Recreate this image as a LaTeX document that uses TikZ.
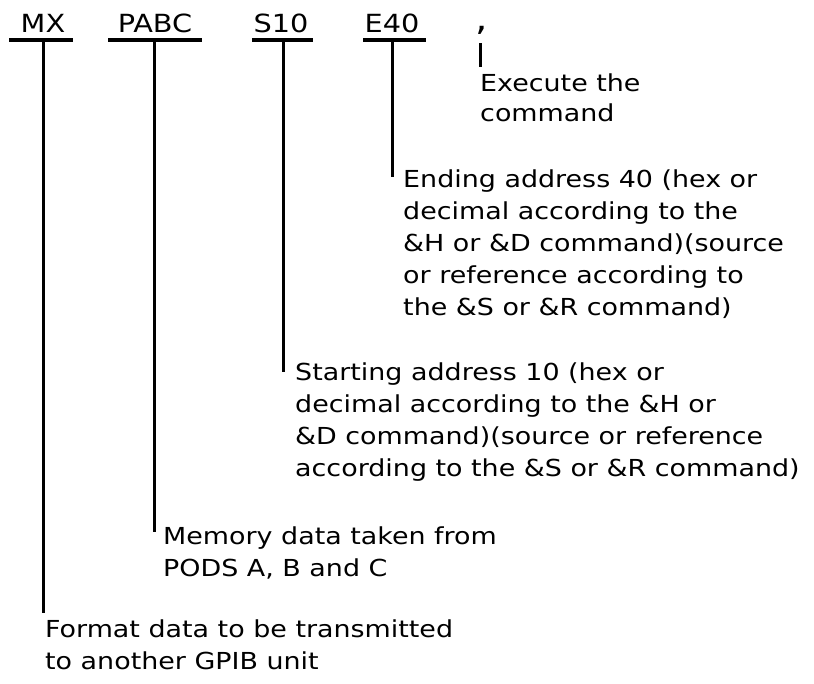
\documentclass[tikz,border=0pt]{standalone}
\usepackage{fontspec}
\setmainfont[FakeStretch=1.15]{DejaVu Sans}
\begin{document}
\begin{tikzpicture}[x=1pt,y=-1pt,
  hdr/.style={font=\fontsize{25}{30}\selectfont, inner sep=0pt, anchor=base},
  note/.style={font=\fontsize{23.4}{32}\selectfont, inner sep=0pt, anchor=north west, align=left},
  bar/.style={line width=3.4pt},
  lead/.style={line width=3pt}]
\useasboundingbox (0,0) rectangle (814,683);

% command fields
\node[hdr] (mx)   at (43,32)  {MX};
\node[hdr] (pabc) at (155,32) {PABC};
\node[hdr] (s10)  at (281,32) {S10};
\node[hdr] (e40)  at (392,32) {E40};
\node[hdr, font=\fontsize{34}{40}\selectfont] (comma) at (482,30) {,};

% underline end points
\coordinate (mxl) at (9,40);    \coordinate (mxr) at (73,40);
\coordinate (pal) at (108,40);  \coordinate (par) at (202,40);
\coordinate (sl)  at (252,40);  \coordinate (sr)  at (313,40);
\coordinate (el)  at (363,40);  \coordinate (er)  at (426,40);

\draw[bar] (mxl) -- (mxr);
\draw[bar] (pal) -- (par);
\draw[bar] (sl) -- (sr);
\draw[bar] (el) -- (er);

% leader tops and bottoms
\coordinate (mxt) at (43,40);   \coordinate (mxb) at (43,613);
\coordinate (pat) at (154,40);  \coordinate (pab) at (154,532);
\coordinate (st)  at (283,40);  \coordinate (sb)  at (283,372);
\coordinate (et)  at (392,40);  \coordinate (eb)  at (392,177);
\coordinate (ct)  at (480,43);  \coordinate (cb)  at (480,67);

\draw[lead] (mxt) -- (mxb);
\draw[lead] (pat) -- (pab);
\draw[lead] (st) -- (sb);
\draw[lead] (et) -- (eb);
\draw[lead] (ct) -- (cb);

% explanations
\node[note, font=\fontsize{23.4}{30}\selectfont] (exec) at (480,74) {Execute the\\command};
\node[note] (ending) at (403,170) {Ending address 40 (hex or\\decimal according to the\\\&H or \&D command)(source\\or reference according to\\the \&S or \&R command)};
\node[note] (starting) at (295,363) {Starting address 10 (hex or\\decimal according to the \&H or\\\&D command)(source or reference\\according to the \&S or \&R command)};
\node[note] (memory) at (163,527) {Memory data taken from\\PODS A, B and C};
\node[note] (format) at (45,620) {Format data to be transmitted\\to another GPIB unit};
\end{tikzpicture}
\end{document}
